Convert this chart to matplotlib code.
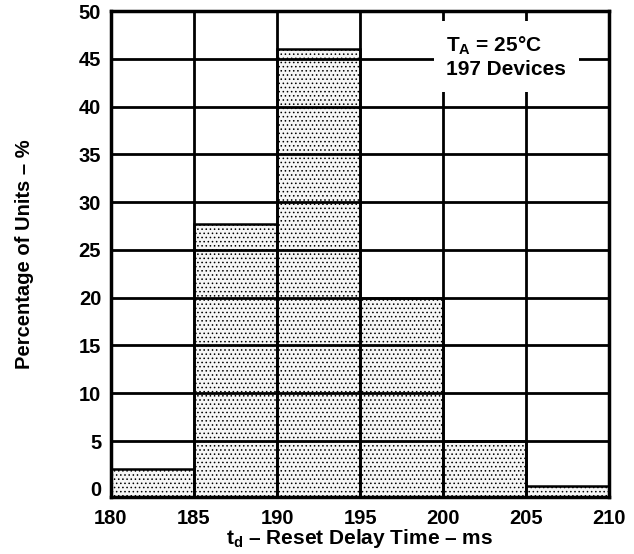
import matplotlib.pyplot as plt
import numpy as np

plt.rcParams['font.family'] = ['Liberation Sans', 'DejaVu Sans']
plt.rcParams['font.weight'] = 'bold'
plt.rcParams['mathtext.fontset'] = 'custom'
plt.rcParams['mathtext.bf'] = 'Liberation Sans:bold'
plt.rcParams['mathtext.rm'] = 'Liberation Sans:bold'
plt.rcParams['hatch.color'] = '#8a8a8a'
plt.rcParams['hatch.linewidth'] = 0.6

bin_edges = [180, 185, 190, 195, 200, 205, 210]
percent = [2.1, 27.7, 46.0, 20.0, 5.0, 0.3]
x_ticks = [180, 185, 190, 195, 200, 205, 210]
y_ticks = [0, 5, 10, 15, 20, 25, 30, 35, 40, 45, 50]

fig = plt.figure(figsize=(6.34, 5.54), dpi=100)
ax = fig.add_axes([0.175, 0.103, 0.786, 0.877])

ymin = -0.85
lefts = np.array(bin_edges[:-1])
widths = np.diff(bin_edges)
heights = np.array(percent) - ymin
ax.bar(lefts, heights, width=widths, bottom=ymin, align='edge',
       facecolor='#f6f6f6', edgecolor='black', linewidth=1.8,
       hatch='....', zorder=1)

ax.set_xlim(180, 210)
ax.set_ylim(ymin, 50)
ax.set_xticks(x_ticks)
ax.set_yticks(y_ticks)
ax.tick_params(labelsize=14.5, length=0)
ax.tick_params(axis='x', pad=9)
ax.tick_params(axis='y', pad=7)
for lbl in ax.get_xticklabels() + ax.get_yticklabels():
    lbl.set_fontweight('bold')

for y in y_ticks[1:-1]:
    ax.axhline(y, color='black', lw=2, zorder=2)
for x in x_ticks[1:-1]:
    ax.axvline(x, color='black', lw=2, zorder=2)

for s in ax.spines.values():
    s.set_linewidth(2.5)
    s.set_zorder(4)

ax.text(0.673, 0.952, '$\\mathbf{T_A}$ = 25°C\n197 Devices', transform=ax.transAxes,
        ha='left', va='top', fontsize=15, fontweight='bold', linespacing=1.25,
        bbox=dict(facecolor='white', edgecolor='none', pad=9), zorder=3)

ax.set_xlabel('$\\mathbf{t_d}$ – Reset Delay Time – ms', fontsize=15, fontweight='bold', labelpad=-1)
ax.set_ylabel('Percentage of Units – %', fontsize=14.5, fontweight='bold', labelpad=32)

fig.savefig('out.png', dpi=100)
